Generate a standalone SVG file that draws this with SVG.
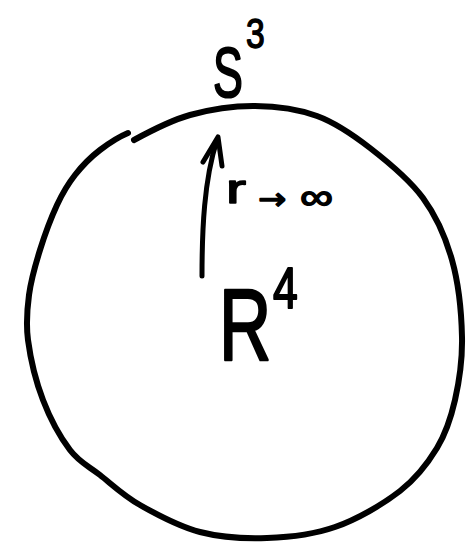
<svg xmlns="http://www.w3.org/2000/svg" width="474" height="550" viewBox="0 0 474 550">
<style>
.ink{fill:none;stroke:#000;stroke-linecap:round;stroke-linejoin:round}
.t{font-family:"Liberation Sans",Arial,sans-serif;fill:#000;stroke:#000;stroke-linejoin:round}
</style>
<rect width="474" height="550" fill="#fff"/>
<g id="sphere">
<path class="ink" stroke-width="6" d="M134,140 C141.7,135.8 169.5,120.7 190,115 C210.5,109.3 233.8,105.8 255,106 C276.2,106.2 297.8,109 317,116 C336.2,123 352.3,134.3 370,148 C387.7,161.7 409.3,179.3 423,198 C436.7,216.7 445.5,236.8 452,260 C458.5,283.2 461.5,313.7 462,337 C462.5,360.3 459.2,381.5 455,400 C450.8,418.5 446.2,432.8 437,448 C427.8,463.2 417,477.8 400,491 C383,504.2 357.2,519.2 335,527 C312.8,534.8 289.5,537.2 267,538 C244.5,538.8 221.2,537.5 200,532 C178.8,526.5 156.7,514.5 140,505 C123.3,495.5 111.7,484.2 100,475 C88.3,465.8 79.5,462.5 70,450 C60.5,437.5 50,418.3 43,400 C36,381.7 30.3,357.5 28,340 C25.7,322.5 27,310 29,295 C31,280 35.3,265 40,250 C44.7,235 51.2,217.5 57,205 C62.8,192.5 67.8,184.2 75,175 C82.2,165.8 90.8,157 100,150 C109.2,143 122,135.5 128,133"/>
</g>
<g id="radius-arrow">
<path class="ink" stroke-width="5" d="M202,276 C202,230 204,180 217,140"/>
<path class="ink" stroke-width="5" d="M203,162 L218,137 L222,166"/>
</g>
<g id="label-S3">
<text class="t" stroke-width="2" font-size="70" transform="translate(213,97) scale(0.64,1)">S</text>
<text class="t" stroke-width="1.5" font-size="42" transform="translate(246,48) scale(0.8,1)">3</text>
</g>
<g id="label-limit">
<text class="t" stroke-width="1.5"><tspan x="226" y="203" font-size="40" textLength="20" lengthAdjust="spacingAndGlyphs">r</tspan><tspan x="258" y="209" font-size="30" font-family="DejaVu Sans" textLength="28" lengthAdjust="spacingAndGlyphs">→</tspan><tspan x="300" y="209" font-size="36" textLength="33" lengthAdjust="spacingAndGlyphs">∞</tspan></text>
</g>
<g id="label-R4">
<text class="t" stroke-width="2.5" font-size="102" transform="translate(219,360) scale(0.71,1)">R</text>
<text class="t" stroke-width="2" font-size="57" transform="translate(273,308) scale(0.78,1)">4</text>
</g>
</svg>
